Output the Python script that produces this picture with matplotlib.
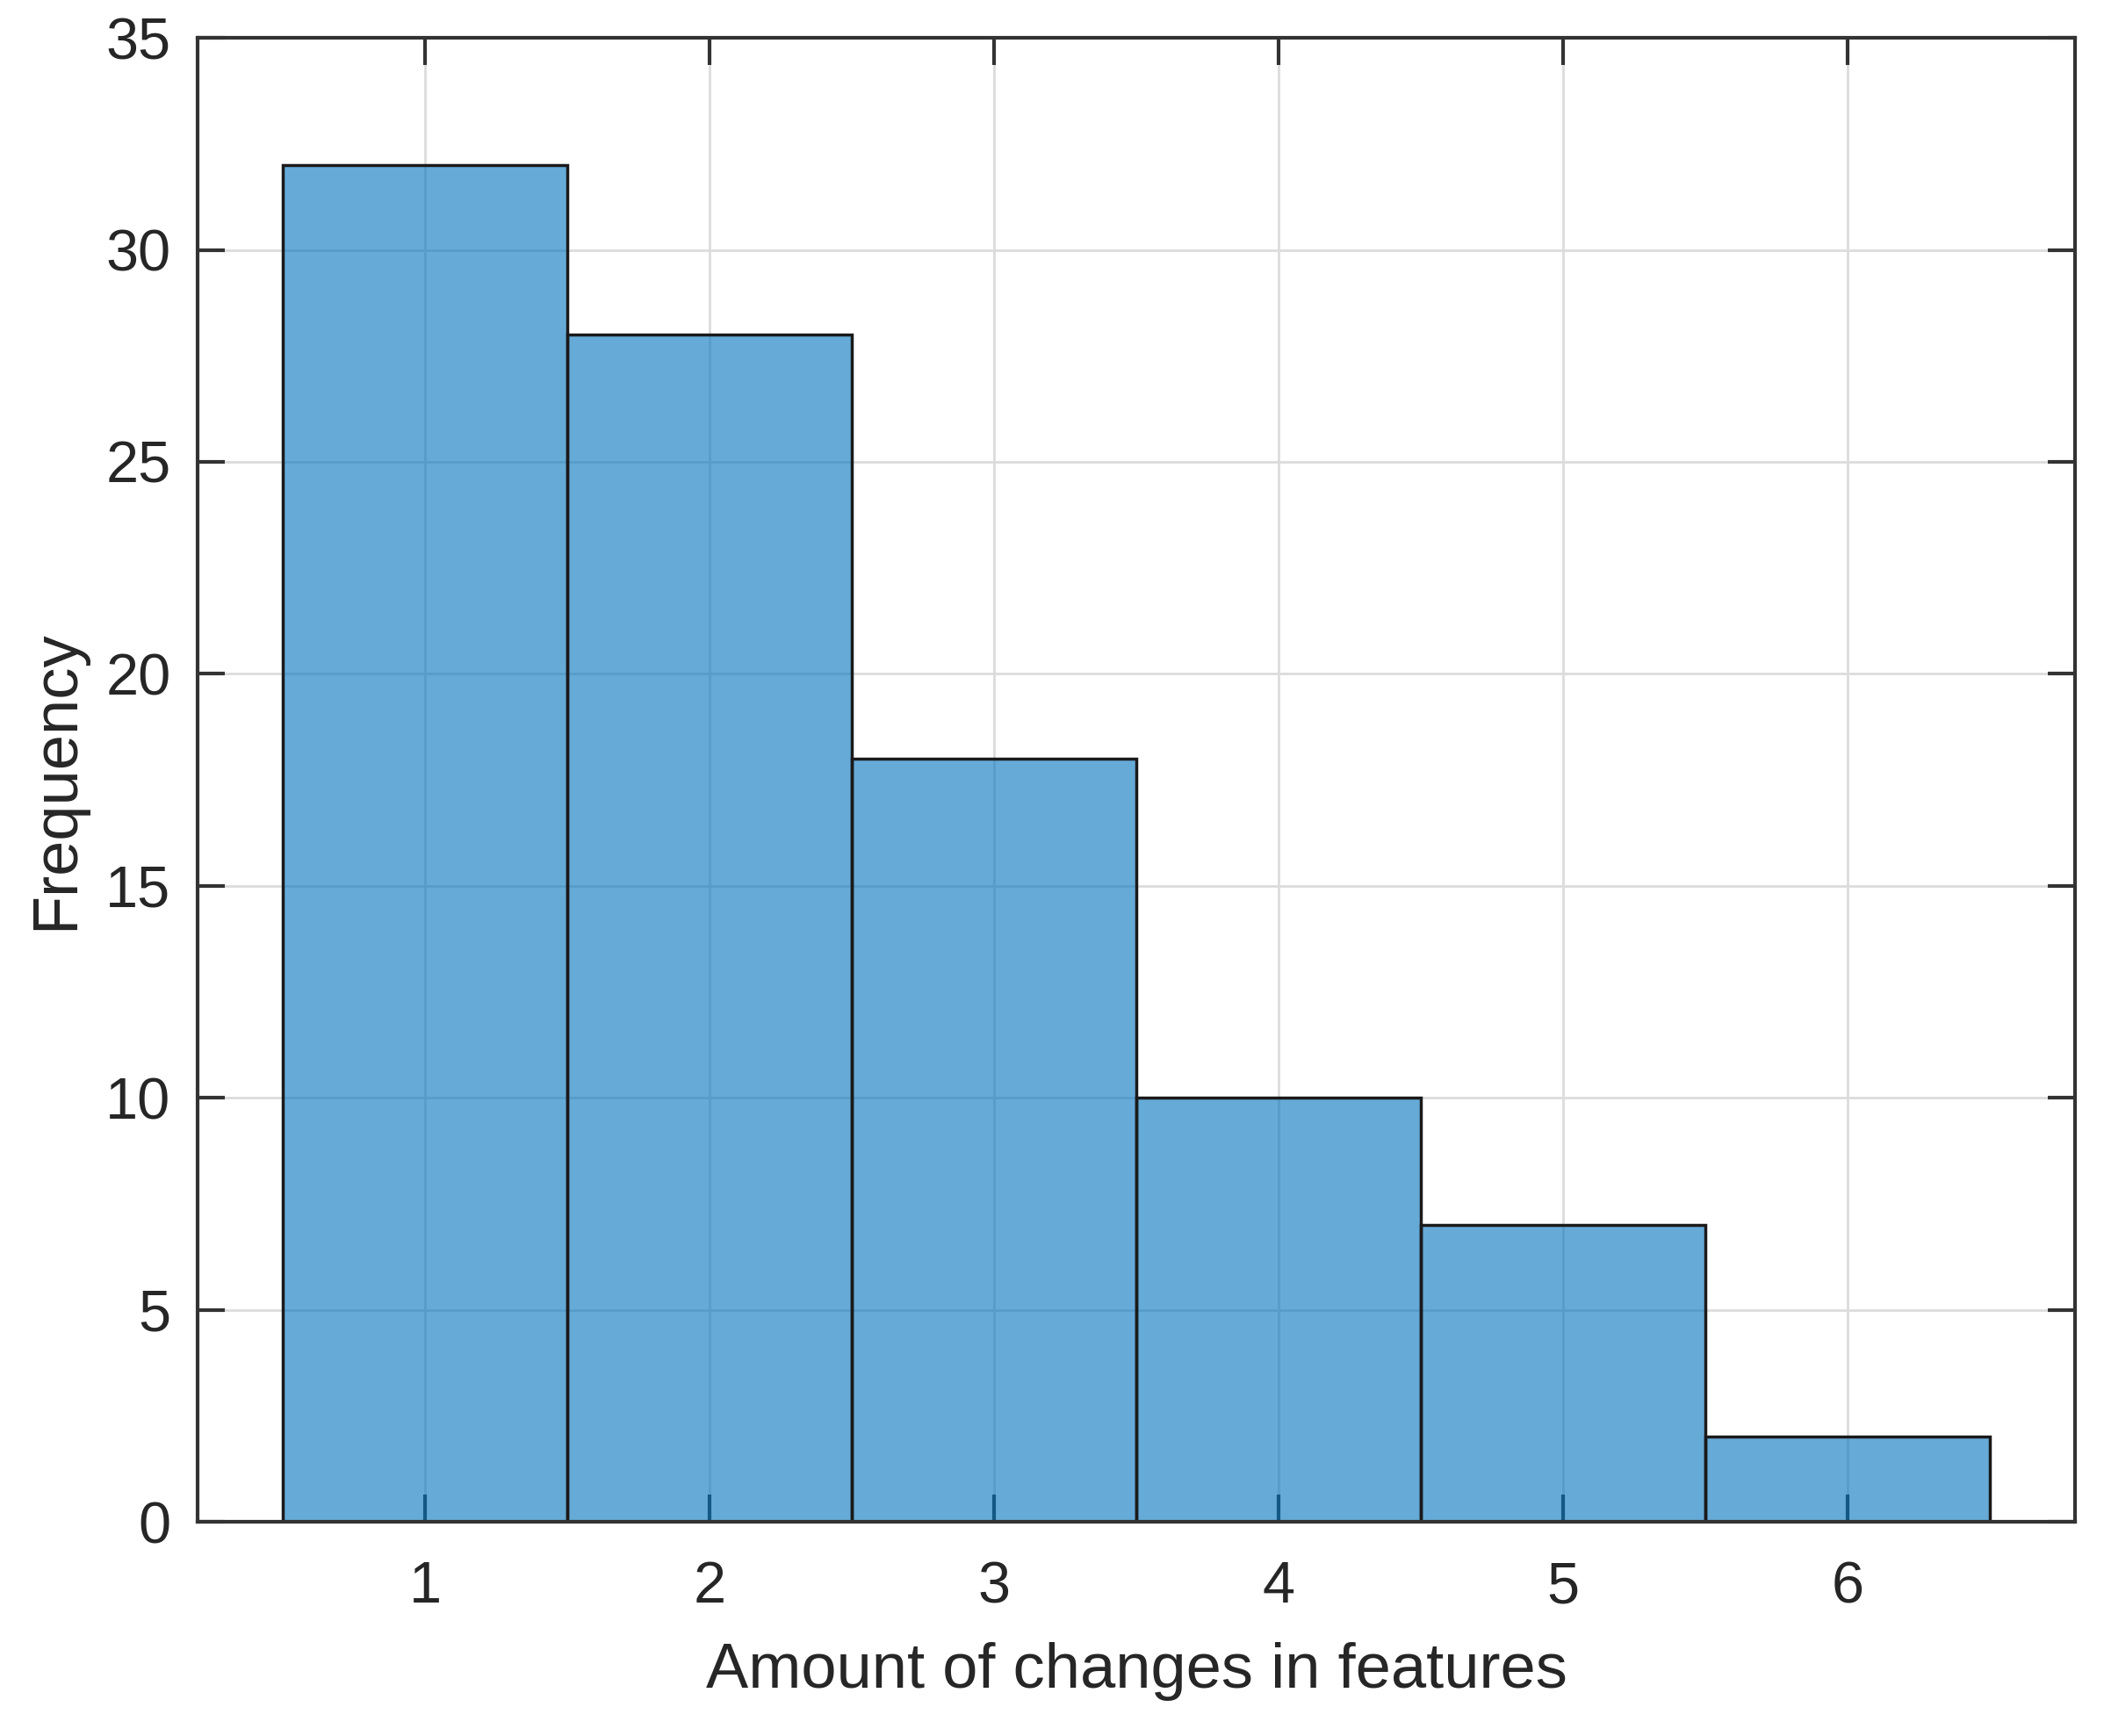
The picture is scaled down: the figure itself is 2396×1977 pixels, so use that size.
import numpy as np
import matplotlib.pyplot as plt

# histogram of changes
changes = [1, 2, 3, 4, 5, 6]
freq = [32, 28, 18, 10, 7, 2]
xticks = [1, 2, 3, 4, 5, 6]
yticks = [0, 5, 10, 15, 20, 25, 30, 35]

plt.rcParams['font.family'] = ['Liberation Sans', 'DejaVu Sans']

fig = plt.figure(figsize=(23.96, 19.77), dpi=100)
ax = fig.add_axes([0.0939, 0.1234, 0.8923, 0.8548])

ax.bar(changes, freq, width=1.0, color='#0072BD', alpha=0.6,
       edgecolor='none', zorder=3)
ax.bar(changes, freq, width=1.0, color='none', edgecolor='#1a1a1a',
       linewidth=2.5, zorder=4)

ax.set_xlim(0.2, 6.8)
ax.set_ylim(0, 35)
ax.set_xticks(xticks)
ax.set_yticks(yticks)

ax.grid(True, color='#dcdcdc', linewidth=2, zorder=0)
ax.set_axisbelow(True)

for s in ax.spines.values():
    s.set_color('#333333')
    s.set_linewidth(3)
    s.set_zorder(5)

ax.tick_params(direction='in', length=22, width=3, color='#333333',
               top=True, right=True, labelsize=48, labelcolor='#262626')
ax.tick_params(axis='x', pad=32)
ax.tick_params(axis='y', pad=22)

ax.set_xlabel('Amount of changes in features', fontsize=52, color='#262626', labelpad=22)
ax.set_ylabel('Frequency', fontsize=52, color='#262626', labelpad=16)

fig.savefig('out.png', dpi=100)
